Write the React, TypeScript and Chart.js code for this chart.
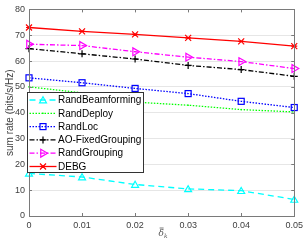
import React, { useEffect, useRef } from "react";
import { Chart, registerables } from "chart.js";

Chart.register(...registerables);

const xValues = [0, 0.01, 0.02, 0.03, 0.04, 0.05];
const xTickLabels = ["0", "0.01", "0.02", "0.03", "0.04", "0.05"];
const yTickValues = [0, 10, 20, 30, 40, 50, 60, 70, 80];

const randBeamforming = [16.5, 15.1, 12.2, 10.5, 9.8, 6.4];
const randDeploy = [50.0, 47.7, 44.1, 42.9, 41.2, 40.3];
const randLoc = [53.5, 51.6, 49.4, 47.4, 44.4, 42.0];
const aoFixedGrouping = [64.8, 62.8, 60.8, 58.3, 56.7, 54.1];
const randGrouping = [66.5, 66.0, 63.6, 61.5, 59.8, 57.1];
const debg = [73.0, 71.5, 70.3, 69.0, 67.6, 65.8];

const seriesNames = ["RandBeamforming", "RandDeploy", "RandLoc", "AO-FixedGrouping", "RandGrouping", "DEBG"];

type Style = { color: string; dash: number[]; marker: string; rot: number; radius: number };
const styles: Style[] = [
  { color: "#00ffff", dash: [6, 4], marker: "triangle", rot: 0, radius: 4 },
  { color: "#00ff00", dash: [1.5, 1.5], marker: "dot", rot: 0, radius: 0 },
  { color: "#0000ff", dash: [1.5, 1.5], marker: "rect", rot: 0, radius: 3 },
  { color: "#000000", dash: [5, 2, 1.5, 2], marker: "plus", rot: 0, radius: 3.5 },
  { color: "#ff00ff", dash: [5, 2, 1.5, 2], marker: "triangle", rot: 90, radius: 4.5 },
  { color: "#ff0000", dash: [], marker: "star", rot: 0, radius: 3 },
];
const seriesData = [randBeamforming, randDeploy, randLoc, aoFixedGrouping, randGrouping, debg];

function drawMarker(ctx: CanvasRenderingContext2D, s: Style, x: number, y: number) {
  ctx.save();
  ctx.setLineDash([]);
  ctx.strokeStyle = s.color;
  ctx.lineWidth = 1.2;
  const r = s.radius;
  ctx.beginPath();
  if (s.marker === "triangle") {
    const a0 = (s.rot * Math.PI) / 180;
    for (let i = 0; i < 3; i++) {
      const a = a0 - Math.PI / 2 + (i * 2 * Math.PI) / 3;
      const px = x + r * Math.cos(a);
      const py = y + r * Math.sin(a) + (s.rot === 0 ? 0.8 : 0);
      if (i === 0) ctx.moveTo(px, py);
      else ctx.lineTo(px, py);
    }
    ctx.closePath();
    ctx.stroke();
  } else if (s.marker === "rect") {
    ctx.strokeRect(x - r, y - r, 2 * r, 2 * r);
  } else if (s.marker === "plus") {
    ctx.moveTo(x - r, y);
    ctx.lineTo(x + r, y);
    ctx.moveTo(x, y - r);
    ctx.lineTo(x, y + r);
    ctx.stroke();
  } else if (s.marker === "star") {
    ctx.moveTo(x - r, y - r);
    ctx.lineTo(x + r, y + r);
    ctx.moveTo(x - r, y + r);
    ctx.lineTo(x + r, y - r);
    ctx.moveTo(x - r, y);
    ctx.lineTo(x + r, y);
    ctx.stroke();
  } else if (s.marker === "dot") {
    ctx.fillStyle = s.color;
    ctx.arc(x, y, 0.8, 0, Math.PI * 2);
    ctx.fill();
  }
  ctx.restore();
}

const framePlugin = {
  id: "frame",
  afterDatasetsDraw(chart: any) {
    const ctx: CanvasRenderingContext2D = chart.ctx;
    const { left, right, top, bottom } = chart.chartArea;
    chart.data.datasets.forEach((ds: any, i: number) => {
      const meta = chart.getDatasetMeta(i);
      meta.data.forEach((pt: any) => drawMarker(ctx, styles[i], pt.x, pt.y));
    });
    ctx.save();
    ctx.strokeStyle = "#7a7a7a";
    ctx.lineWidth = 1;
    ctx.setLineDash([]);
    ctx.strokeRect(Math.round(left) + 0.5, Math.round(top) + 0.5, Math.round(right - left), Math.round(bottom - top));
    const xs = chart.scales.x;
    const ys = chart.scales.y;
    ctx.beginPath();
    xValues.forEach((v) => {
      const px = Math.round(xs.getPixelForValue(v)) + 0.5;
      ctx.moveTo(px, bottom);
      ctx.lineTo(px, bottom - 3);
      ctx.moveTo(px, top);
      ctx.lineTo(px, top + 3);
    });
    yTickValues.forEach((v) => {
      const py = Math.round(ys.getPixelForValue(v)) + 0.5;
      ctx.moveTo(left, py);
      ctx.lineTo(left + 3, py);
      ctx.moveTo(right, py);
      ctx.lineTo(right - 3, py);
    });
    ctx.stroke();

    // legend
    const bx = 27.5, by = 92.5, bw = 116, bh = 80;
    ctx.fillStyle = "#ffffff";
    ctx.fillRect(bx, by, bw, bh);
    ctx.strokeStyle = "#333333";
    ctx.strokeRect(bx, by, bw, bh);
    ctx.font = "10px 'Liberation Sans', Arial, sans-serif";
    ctx.textBaseline = "middle";
    ctx.textAlign = "left";
    seriesNames.forEach((name, i) => {
      const y = by + 7.5 + i * 13.3;
      const s = styles[i];
      ctx.save();
      ctx.strokeStyle = s.color;
      ctx.lineWidth = 1.3;
      ctx.setLineDash(s.dash);
      ctx.beginPath();
      ctx.moveTo(bx + 2, y);
      ctx.lineTo(bx + 29, y);
      ctx.stroke();
      ctx.restore();
      drawMarker(ctx, s, bx + 15.5, y);
      ctx.fillStyle = "#000000";
      ctx.fillText(name, bx + 30.5, y + 0.5);
    });

    // x-axis title: delta-bar with subscript k
    const cx = (left + right) / 2 - 3;
    const cy = 233;
    ctx.fillStyle = "#555555";
    ctx.font = "italic 9px 'DejaVu Serif', serif";
    ctx.textBaseline = "alphabetic";
    ctx.fillText("δ", cx, cy + 3);
    ctx.strokeStyle = "#555555";
    ctx.lineWidth = 0.8;
    ctx.beginPath();
    ctx.moveTo(cx + 1, cy - 5);
    ctx.lineTo(cx + 5, cy - 5);
    ctx.stroke();
    ctx.font = "italic 6px 'DejaVu Serif', serif";
    ctx.fillText("k", cx + 5.5, cy + 5);
    ctx.restore();
  },
};

export default function App() {
  const canvasRef = useRef<HTMLCanvasElement | null>(null);
  useEffect(() => {
    const canvas = canvasRef.current;
    if (!canvas) return;
    const chart = new Chart(canvas, {
      type: "line",
      data: {
        datasets: seriesNames.map((name, i) => ({
          label: name,
          data: xValues.map((x, j) => ({ x, y: seriesData[i][j] })),
          borderColor: styles[i].color,
          backgroundColor: styles[i].color,
          borderDash: styles[i].dash,
          borderWidth: 1.3,
          pointRadius: 0,
          fill: false,
          tension: 0,
        })),
      },
      options: {
        animation: false,
        responsive: false,
        maintainAspectRatio: false,
        events: [],
        layout: { padding: { left: 0, right: 9, top: 4, bottom: 0 } },
        plugins: { legend: { display: false }, tooltip: { enabled: false } },
        scales: {
          x: {
            type: "linear",
            min: 0,
            max: 0.05,
            afterBuildTicks: (axis: any) => {
              axis.ticks = xValues.map((v) => ({ value: v }));
            },
            afterFit: (axis: any) => {
              axis.height = 26;
            },
            ticks: {
              autoSkip: false,
              maxRotation: 0,
              padding: 4,
              color: "#404040",
              font: { size: 9, family: "'Liberation Sans', Arial, sans-serif" },
              callback: (v: any, i: number) => xTickLabels[i],
            },
            grid: { display: false, drawTicks: false },
            border: { display: false },
          },
          y: {
            type: "linear",
            min: 0,
            max: 80,
            afterBuildTicks: (axis: any) => {
              axis.ticks = yTickValues.map((v) => ({ value: v }));
            },
            afterFit: (axis: any) => {
              axis.width = 29;
            },
            ticks: {
              padding: 4,
              color: "#404040",
              font: { size: 9, family: "'Liberation Sans', Arial, sans-serif" },
            },
            grid: { color: "#e6e6e6", drawTicks: false, lineWidth: 1 },
            border: { display: false },
            title: {
              display: true,
              text: "sum rate (bits/s/Hz)",
              color: "#404040",
              font: { size: 10, family: "'Liberation Sans', Arial, sans-serif" },
              padding: { top: 4, bottom: 0 },
            },
          },
        },
      },
      plugins: [framePlugin],
    });
    return () => chart.destroy();
  }, []);
  return (
    <div style={{ position: "fixed", left: 0, top: 0, width: 307, height: 242, background: "#fff" }}>
      <canvas ref={canvasRef} width={307} height={242} style={{ display: "block" }} />
    </div>
  );
}
